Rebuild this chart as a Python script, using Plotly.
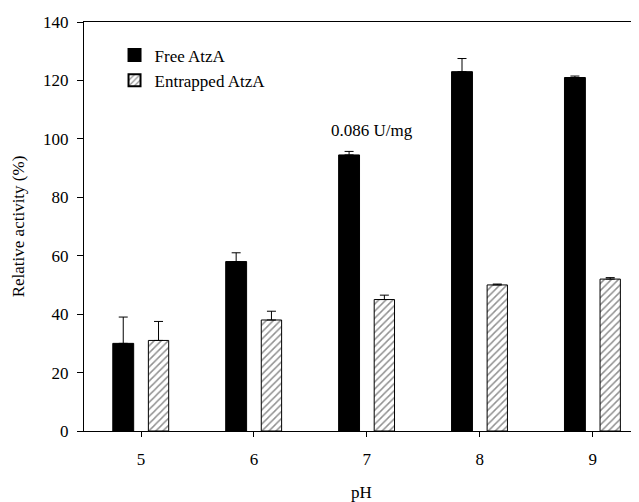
import plotly.graph_objects as go

ph = ["5", "6", "7", "8", "9"]
free_vals = [30, 58, 94.5, 123, 121]
free_err = [9, 3, 1.2, 4.5, 0.5]
ent_vals = [31, 38, 45, 50, 52]
ent_err = [6.5, 3, 1.5, 0.3, 0.5]
y_ticks = [0, 20, 40, 60, 80, 100, 120, 140]

font = dict(family="Liberation Serif", size=17, color="black")

fig = go.Figure()
fig.add_trace(go.Bar(
    x=ph, y=free_vals, name="Free AtzA",
    width=0.185, offset=-0.25,
    marker=dict(color="black", line=dict(color="black", width=1)),
    error_y=dict(type="data", array=free_err, arrayminus=[0]*5, symmetric=False,
                 color="black", thickness=1, width=4.5),
))
fig.add_trace(go.Bar(
    x=ph, y=ent_vals, name="Entrapped AtzA",
    width=0.18, offset=0.065,
    marker=dict(color="white", line=dict(color="black", width=1),
                pattern=dict(shape="/", fgcolor="#222222", bgcolor="white",
                             size=5, solidity=0.3)),
    error_y=dict(type="data", array=ent_err, arrayminus=[0]*5, symmetric=False,
                 color="black", thickness=1, width=4.5),
))

fig.add_annotation(x=2, y=102.7, xref="x", yref="y", text="0.086 U/mg",
                   showarrow=False, xshift=5, yanchor="middle", font=font)

# page body has an 8px margin; size the figure so the plot lands where the reference has it
fig.update_layout(
    width=631, height=494,
    margin=dict(l=76, r=0, t=14, b=71, autoexpand=False),
    plot_bgcolor="white", paper_bgcolor="white",
    barmode="overlay",
    font=font,
    showlegend=True,
    legend=dict(x=0.055, y=0.962, xanchor="left", yanchor="top",
                bgcolor="rgba(0,0,0,0)", font=font, tracegroupgap=0,
                itemsizing="constant"),
    xaxis=dict(
        type="category", range=[-0.505, 4.41], automargin=False,
        showline=True, linecolor="black", linewidth=1, mirror=True,
        ticks="outside", ticklen=5, tickcolor="black",
        showgrid=False, zeroline=False,
        ticklabelstandoff=8,
        title=dict(text="pH", font=font, standoff=18),
        tickfont=font,
    ),
    yaxis=dict(
        range=[0, 140], tickvals=y_ticks, automargin=False,
        showline=True, linecolor="black", linewidth=1,
        ticks="outside", ticklen=6, tickcolor="black",
        showgrid=False, zeroline=False,
        ticklabelstandoff=5,
        title=dict(text="Relative activity (%)", font=font, standoff=14),
        tickfont=font,
    ),
)

fig.write_html("out.html")
